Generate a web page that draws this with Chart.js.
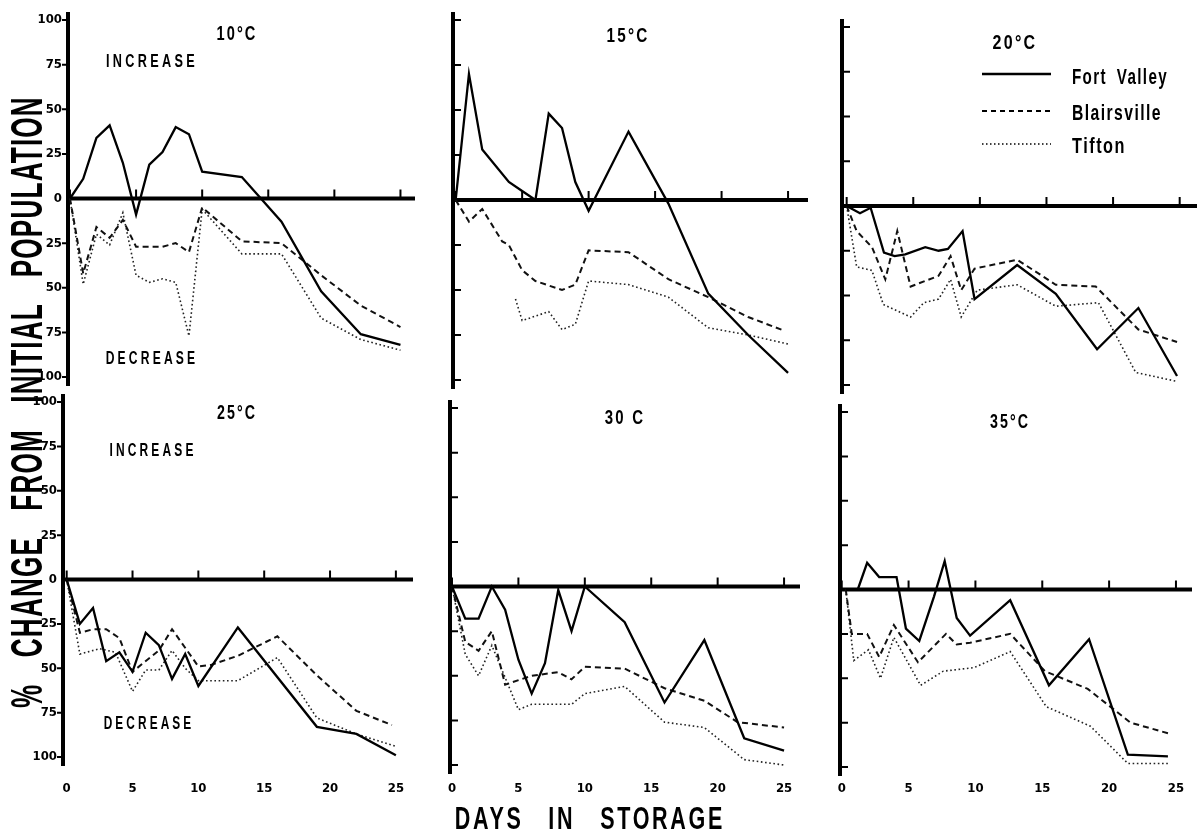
<!DOCTYPE html>
<html>
<head>
<meta charset="utf-8">
<script src="https://cdn.jsdelivr.net/npm/chart.js@4.4.0/dist/chart.umd.min.js"></script>
<style>
  html, body { margin: 0; padding: 0; background: #fff; }
  #stage { position: relative; width: 1204px; height: 837px; overflow: hidden; background: #fff; }
  #stage canvas { position: absolute; }
  .txt { position: absolute; white-space: nowrap; line-height: 1; color: #000;
         font-family: 'Liberation Sans', Roboto, Arial, sans-serif; font-weight: bold; }
</style>
</head>
<body>
<div id="stage"></div>
<script>
// ---- data ----
const xTicks = [0, 5, 10, 15, 20, 25];
const yTicks = [-100, -75, -50, -25, 0, 25, 50, 75, 100];
const seriesNames = ['Fort Valley', 'Blairsville', 'Tifton'];

// 10 C
const fvDays10 = [0, 1, 2, 3, 4, 5, 6, 7, 8, 9, 10, 13, 16, 19, 22, 25];
const fv10 = [0, 11, 34, 41, 20, -9, 19, 26, 40, 36, 15, 12, -13, -52, -76, -82];
const blDays10 = [0, 1, 2, 3, 4, 5, 6, 7, 8, 9, 10, 13, 16, 19, 22, 25];
const bl10 = [0, -42, -16, -22, -12, -27, -27, -27, -25, -30, -5, -24, -25, -43, -60, -72];
const tiDays10 = [0, 1, 2, 3, 4, 5, 6, 7, 8, 9, 10, 13, 16, 19, 22, 25];
const ti10 = [0, -48, -20, -26, -8, -43, -47, -45, -47, -77, -6, -31, -31, -67, -79, -85];

// 15 C
const fvDays15 = [0, 1, 2, 4, 5, 6, 7, 8, 9, 10, 13, 16, 19, 22, 25];
const fv15 = [0, 70, 28, 10, 5, 0, 48, 40, 10, -6, 38, -2, -52, -75, -96];
const blDays15 = [0, 1, 2, 3.5, 4, 5, 6, 8, 9, 10, 13, 16, 19, 22, 24.5];
const bl15 = [0, -12, -5, -23, -25, -39, -45, -50, -47, -28, -29, -44, -54, -65, -72];
const tiDays15 = [4.5, 5, 7, 8, 9, 10, 13, 16, 19, 22, 25];
const ti15 = [-55, -67, -62, -72, -69, -45, -47, -54, -71, -75, -80];

// 20 C
const fvDays20 = [0, 1, 1.8, 2.8, 3.6, 4.4, 5.9, 6.9, 7.6, 8.7, 9.6, 12.8, 15.7, 18.8, 21.9, 24.8];
const fv20 = [0, -4, -1, -26, -28, -27, -23, -25, -24, -14, -52, -33, -49, -80, -57, -95];
const blDays20 = [0, 0.75, 1.9, 2.9, 3.8, 4.8, 6.9, 7.8, 8.6, 9.6, 12.8, 15.7, 18.7, 21.9, 24.8];
const bl20 = [0, -14, -23, -41, -14, -45, -39, -28, -47, -35, -30, -44, -45, -69, -76];
const tiDays20 = [0, 0.75, 1.9, 2.75, 4.8, 5.8, 6.9, 7.8, 8.6, 9.8, 12.8, 15.7, 18.9, 21.7, 24.8];
const ti20 = [0, -34, -36, -55, -62, -54, -52, -41, -62, -47, -44, -56, -54, -93, -98];

// 25 C
const fvDays25 = [0, 1, 2, 3, 4, 5, 6, 7, 8, 9, 10, 13, 19, 22, 25];
const fv25 = [0, -25, -16, -46, -41, -52, -30, -37, -56, -42, -60, -27, -83, -87, -99];
const blDays25 = [0, 1, 2, 3, 4, 5, 7, 8, 10, 11, 13, 16, 19, 22, 24.7];
const bl25 = [0, -30, -28, -28, -33, -52, -40, -28, -49, -48, -43, -32, -54, -74, -82];
const tiDays25 = [0, 1, 2.5, 3.7, 5, 6, 7, 8, 9, 10, 13, 16, 19, 22, 25];
const ti25 = [0, -42, -39, -41, -63, -51, -51, -40, -50, -57, -57, -44, -78, -87, -94];

// 30 C
const fvDays30 = [0, 1, 2, 3, 4, 5, 6, 7, 8, 9, 10, 13, 16, 19, 22, 25];
const fv30 = [0, -18, -18, 0, -13, -41, -60, -43, -2, -25, 0, -20, -65, -30, -85, -92];
const blDays30 = [0, 1, 2, 3, 4, 6, 8, 9, 10, 13, 16, 19, 21.5, 25];
const bl30 = [0, -31, -36, -25, -55, -50, -48, -52, -45, -46, -57, -64, -76, -79];
const tiDays30 = [0, 1, 2, 3, 5, 6, 9, 10, 13, 16, 19, 22, 25];
const ti30 = [0, -38, -50, -33, -69, -66, -66, -60, -56, -76, -79, -97, -100];

// 35 C
const fvDays35 = [0.3, 1.2, 1.9, 2.8, 4.1, 4.8, 5.8, 6.9, 7.7, 8.6, 9.6, 12.6, 15.5, 18.5, 21.4, 24.4];
const fv35 = [0, 0, 15, 7, 7, -22, -29, -4, 16, -16, -26, -6, -54, -28, -93, -94];
const blDays35 = [0.3, 0.75, 1.9, 2.8, 3.9, 5.7, 7.8, 8.6, 9.6, 12.6, 15.2, 18.4, 21.6, 24.4];
const bl35 = [0, -25, -25, -38, -20, -41, -25, -31, -30, -25, -46, -56, -75, -81];
const tiDays35 = [0.3, 0.9, 2.0, 2.9, 3.9, 5.9, 7.6, 9.9, 12.6, 15.3, 18.6, 21.4, 24.4];
const ti35 = [0, -40, -34, -50, -27, -54, -46, -44, -35, -66, -77, -98, -98];

// ---- layout of the six panels (page pixels of each plot box) ----
const panels = [
  { title: '10°C', L: 68,  R: 415,  T: 20,  B: 377, xmin: -0.15, xmax: 26.1, yLab: true,  xLab: false, inward: false,
    s: [[fvDays10, fv10], [blDays10, bl10], [tiDays10, ti10]] },
  { title: '15°C', L: 453, R: 808,  T: 20,  B: 380, xmin: -0.2,  xmax: 26.5, yLab: false, xLab: false, inward: true,
    s: [[fvDays15, fv15], [blDays15, bl15], [tiDays15, ti15]] },
  { title: '20°C', L: 842, R: 1197, T: 27,  B: 385, xmin: -0.35, xmax: 26.3, yLab: false, xLab: false, inward: true,
    s: [[fvDays20, fv20], [blDays20, bl20], [tiDays20, ti20]] },
  { title: '25°C', L: 63,  R: 413,  T: 402, B: 757, xmin: -0.28, xmax: 26.3, yLab: true,  xLab: true,  inward: false,
    s: [[fvDays25, fv25], [blDays25, bl25], [tiDays25, ti25]] },
  { title: '30  C', L: 450, R: 800, T: 408, B: 765, xmin: -0.15, xmax: 26.2, yLab: false, xLab: true,  inward: true,
    s: [[fvDays30, fv30], [blDays30, bl30], [tiDays30, ti30]] },
  { title: '35°C', L: 840, R: 1192, T: 412, B: 767, xmin: -0.13, xmax: 26.2, yLab: false, xLab: true,  inward: true,
    s: [[fvDays35, fv35], [blDays35, bl35], [tiDays35, ti35]] }
];

const lineStyles = [
  { borderColor: '#000', borderWidth: 2.3, borderDash: [] },
  { borderColor: '#111', borderWidth: 2, borderDash: [6, 4] },
  { borderColor: '#222', borderWidth: 1.6, borderDash: [1.6, 2.6] }
];

Chart.defaults.font.family = '"Liberation Sans Narrow", "DejaVu Sans Condensed", "Liberation Sans", sans-serif';
Chart.defaults.color = '#000';

// thick hand-drawn style axes: vertical axis, zero line, small tick marks
const paperAxes = {
  id: 'paperAxes',
  beforeDatasetsDraw(chart, args, opts) {
    const { ctx, chartArea: a, scales: { x, y } } = chart;
    const y0 = y.getPixelForValue(0);
    ctx.save();
    ctx.strokeStyle = '#000';
    ctx.lineWidth = 4;
    ctx.beginPath();
    ctx.moveTo(a.left, a.top - 8);
    ctx.lineTo(a.left, a.bottom + 9);
    ctx.moveTo(a.left, y0);
    ctx.lineTo(a.right, y0);
    ctx.stroke();
    ctx.lineWidth = 2;
    ctx.beginPath();
    yTicks.forEach(v => {
      if (v === 0) return;
      const py = y.getPixelForValue(v);
      ctx.moveTo(a.left, py);
      ctx.lineTo(a.left + (opts.inward ? 8 : -6), py);
    });
    xTicks.forEach(v => {
      const px = x.getPixelForValue(v);
      ctx.moveTo(px, y0);
      ctx.lineTo(px, y0 - 9);
    });
    ctx.stroke();
    ctx.restore();
  }
};

const stage = document.getElementById('stage');
const PADL = 8, PADR = 8, PADT = 14, PADB = 14, YW = 46, XH = 40;

panels.forEach(p => {
  const cv = document.createElement('canvas');
  const w = PADL + (p.yLab ? YW : 0) + (p.R - p.L) + PADR;
  const h = PADT + (p.B - p.T) + (p.xLab ? XH : 0) + PADB;
  cv.width = w; cv.height = h;
  cv.style.left = (p.L - PADL - (p.yLab ? YW : 0)) + 'px';
  cv.style.top = (p.T - PADT) + 'px';
  stage.appendChild(cv);

  new Chart(cv, {
    type: 'line',
    data: {
      datasets: p.s.map((pair, i) => ({
        label: seriesNames[i],
        data: pair[0].map((d, k) => ({ x: d, y: pair[1][k] })),
        ...lineStyles[i],
        pointRadius: 0,
        tension: 0,
        fill: false,
        clip: false
      }))
    },
    options: {
      responsive: false,
      animation: false,
      events: [],
      layout: { padding: { left: PADL, right: PADR, top: PADT, bottom: PADB } },
      plugins: { legend: { display: false }, tooltip: { enabled: false }, paperAxes: { inward: p.inward } },
      scales: {
        x: {
          type: 'linear', min: p.xmin, max: p.xmax, display: p.xLab,
          grid: { display: false, drawTicks: false }, border: { display: false },
          afterBuildTicks: s => { s.ticks = xTicks.map(v => ({ value: v })); },
          afterFit: s => {
            if (p.xLab) s.height = XH;
            s.paddingLeft = 0; s.paddingRight = 0;
          },
          ticks: { padding: 781 - p.B, maxRotation: 0, autoSkip: false, font: { size: 13, weight: 'bold' } }
        },
        y: {
          type: 'linear', min: -100, max: 100, display: p.yLab,
          grid: { display: false, drawTicks: false }, border: { display: false },
          afterBuildTicks: s => { s.ticks = yTicks.map(v => ({ value: v })); },
          afterFit: s => {
            if (p.yLab) s.width = YW;
            s.paddingTop = 0; s.paddingBottom = 0;
          },
          ticks: { padding: 6, autoSkip: false, callback: v => Math.abs(v), font: { size: 13, weight: 'bold' } }
        }
      }
    },
    plugins: [paperAxes]
  });
});

// ---- text overlays, squeezed to the condensed lettering of the original ----
function addText(txt, cx, cy, width, size, rot, ls, ws) {
  const el = document.createElement('div');
  el.className = 'txt';
  el.textContent = txt;
  el.style.fontSize = size + 'px';
  el.style.letterSpacing = (ls || 0) + 'px';
  el.style.wordSpacing = (ws || 0) + 'px';
  el.style.left = cx + 'px';
  el.style.top = cy + 'px';
  stage.appendChild(el);
  const nat = el.offsetWidth;
  el.style.transform = `translate(-50%,-50%) rotate(${rot || 0}deg) scaleX(${width / nat})`;
}

// panel titles
addText(panels[0].title, 237, 32, 41, 21, 0, 3);
addText(panels[1].title, 628, 34, 43, 21, 0, 3);
addText(panels[2].title, 1015, 41, 45, 21, 0, 3);
addText(panels[3].title, 237, 411, 40, 21, 0, 3);
addText(panels[4].title, 625, 416, 40, 21, 0, 3);
addText(panels[5].title, 1010, 420, 40, 21, 0, 3);

addText('INCREASE', 152, 60, 92, 19, 0, 5);
addText('DECREASE', 152, 357, 93, 19, 0, 5);
addText('INCREASE', 153, 449, 87, 19, 0, 5);
addText('DECREASE', 149, 722, 91, 19, 0, 5);

// legend
addText('Fort Valley', 1120, 77, 96, 22, 0, 2, 6);
addText('Blairsville', 1117, 113, 90, 22, 0, 2);
addText('Tifton', 1099, 146, 54, 22, 0, 2);
const svgNS = 'http://www.w3.org/2000/svg';
const svg = document.createElementNS(svgNS, 'svg');
svg.setAttribute('width', '1204'); svg.setAttribute('height', '837');
svg.style.cssText = 'position:absolute;left:0;top:0;pointer-events:none';
[[74, '', 2.5], [111, '5 4', 2], [144, '1.5 2.5', 1.6]].forEach(([yy, dash, lw]) => {
  const ln = document.createElementNS(svgNS, 'line');
  ln.setAttribute('x1', 982); ln.setAttribute('x2', 1051);
  ln.setAttribute('y1', yy); ln.setAttribute('y2', yy);
  ln.setAttribute('stroke', '#000'); ln.setAttribute('stroke-width', lw);
  if (dash) ln.setAttribute('stroke-dasharray', dash);
  svg.appendChild(ln);
});
stage.appendChild(svg);

// axis titles
addText('% CHANGE FROM INITIAL POPULATION', 27, 402, 612, 44, -90, 2, 30);
addText('DAYS IN STORAGE', 590, 818, 270, 32, 0, 4, 24);
</script>
</body>
</html>
